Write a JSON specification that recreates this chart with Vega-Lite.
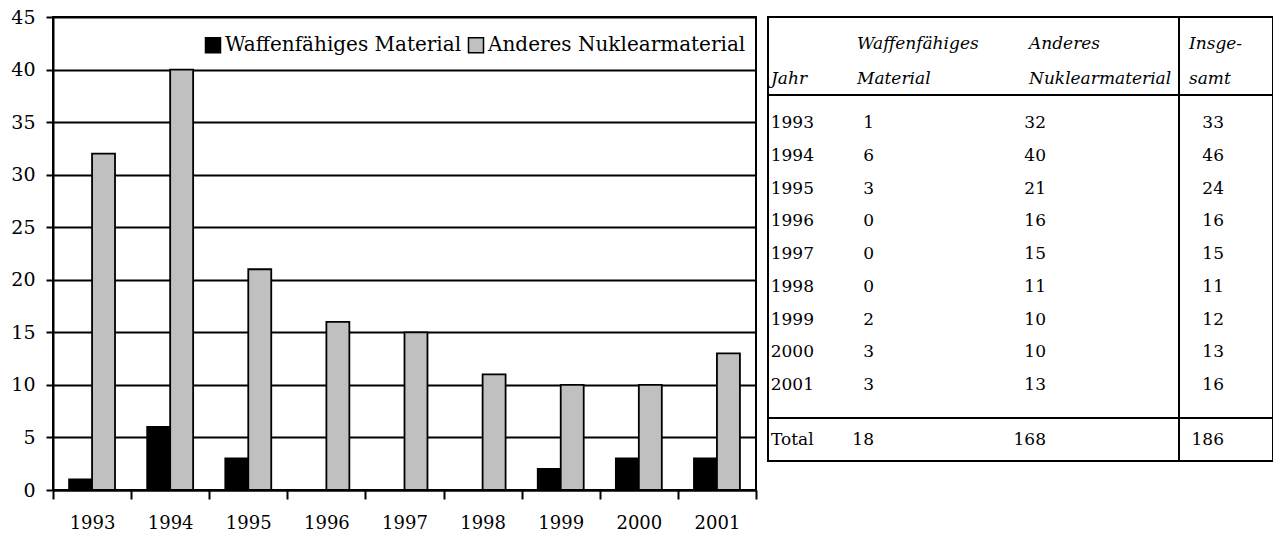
{
  "$schema": "https://vega.github.io/schema/vega-lite/v6.json",
  "padding": {"left": 5, "top": 7, "right": 1, "bottom": 0},
  "bounds": "flush",
  "spacing": 12,
  "background": "white",
  "config": {
    "view": {"stroke": "black", "strokeWidth": 2},
    "font": "DejaVu Serif",
    "text": {"font": "DejaVu Serif"}
  },
  "hconcat": [
    {
      "width": 703,
      "height": 473,
      "data": {
        "values": [
          {"Jahr": "1993", "Typ": "Waffenfähiges Material", "Anzahl": 1},
          {"Jahr": "1993", "Typ": "Anderes Nuklearmaterial", "Anzahl": 32},
          {"Jahr": "1994", "Typ": "Waffenfähiges Material", "Anzahl": 6},
          {"Jahr": "1994", "Typ": "Anderes Nuklearmaterial", "Anzahl": 40},
          {"Jahr": "1995", "Typ": "Waffenfähiges Material", "Anzahl": 3},
          {"Jahr": "1995", "Typ": "Anderes Nuklearmaterial", "Anzahl": 21},
          {"Jahr": "1996", "Typ": "Waffenfähiges Material", "Anzahl": 0},
          {"Jahr": "1996", "Typ": "Anderes Nuklearmaterial", "Anzahl": 16},
          {"Jahr": "1997", "Typ": "Waffenfähiges Material", "Anzahl": 0},
          {"Jahr": "1997", "Typ": "Anderes Nuklearmaterial", "Anzahl": 15},
          {"Jahr": "1998", "Typ": "Waffenfähiges Material", "Anzahl": 0},
          {"Jahr": "1998", "Typ": "Anderes Nuklearmaterial", "Anzahl": 11},
          {"Jahr": "1999", "Typ": "Waffenfähiges Material", "Anzahl": 2},
          {"Jahr": "1999", "Typ": "Anderes Nuklearmaterial", "Anzahl": 10},
          {"Jahr": "2000", "Typ": "Waffenfähiges Material", "Anzahl": 3},
          {"Jahr": "2000", "Typ": "Anderes Nuklearmaterial", "Anzahl": 10},
          {"Jahr": "2001", "Typ": "Waffenfähiges Material", "Anzahl": 3},
          {"Jahr": "2001", "Typ": "Anderes Nuklearmaterial", "Anzahl": 13}
        ]
      },
      "mark": {"type": "bar", "stroke": "black", "strokeWidth": 1.8},
      "encoding": {
        "x": {
          "field": "Jahr",
          "type": "nominal",
          "scale": {"paddingInner": 0, "paddingOuter": 0},
          "axis": {
            "title": null,
            "labelAngle": 0,
            "tickBand": "extent",
            "grid": false,
            "domainColor": "black",
            "domainWidth": 2,
            "tickColor": "black",
            "tickWidth": 2,
            "tickSize": 9,
            "labelFont": "DejaVu Serif",
            "labelFontSize": 18,
            "labelColor": "black",
            "labelPadding": 15
          }
        },
        "xOffset": {
          "field": "Typ",
          "scale": {
            "domain": ["Waffenfähiges Material", "Anderes Nuklearmaterial"],
            "paddingInner": 0,
            "paddingOuter": 0.7
          }
        },
        "y": {
          "field": "Anzahl",
          "type": "quantitative",
          "scale": {"domain": [0, 45], "nice": false},
          "axis": {
            "title": null,
            "values": [0, 5, 10, 15, 20, 25, 30, 35, 40, 45],
            "grid": true,
            "gridColor": "black",
            "gridWidth": 2,
            "gridOpacity": 1,
            "domainColor": "black",
            "domainWidth": 2,
            "tickColor": "black",
            "tickWidth": 2,
            "tickSize": 7,
            "labelFont": "DejaVu Serif",
            "labelFontSize": 19,
            "labelColor": "black",
            "labelPadding": 11,
            "minExtent": 47,
            "maxExtent": 47
          }
        },
        "fill": {
          "field": "Typ",
          "type": "nominal",
          "scale": {
            "domain": ["Waffenfähiges Material", "Anderes Nuklearmaterial"],
            "range": ["black", "#C0C0C0"]
          },
          "legend": {
            "title": null,
            "orient": "none",
            "legendX": 150,
            "legendY": 18,
            "direction": "horizontal",
            "symbolType": "square",
            "symbolSize": 225,
            "symbolStrokeColor": "black",
            "symbolStrokeWidth": 1.5,
            "symbolOpacity": 1,
            "labelFont": "DejaVu Serif",
            "labelFontSize": 20,
            "labelColor": "black",
            "labelOffset": 2,
            "columnPadding": 3,
            "padding": 0,
            "labelLimit": 400
          }
        }
      }
    },
    {
      "width": 505,
      "height": 444,
      "layer": [
        {
          "data": {
            "values": [
              {"row": 0, "col": 1, "text": "Waffenfähiges"},
              {"row": 0, "col": 2, "text": "Anderes"},
              {"row": 0, "col": 3, "text": "Insge-"},
              {"row": 1, "col": 0, "text": "Jahr"},
              {"row": 1, "col": 1, "text": "Material"},
              {"row": 1, "col": 2, "text": "Nuklearmaterial"},
              {"row": 1, "col": 3, "text": "samt"}
            ]
          },
          "mark": {"type": "text", "align": "left", "baseline": "middle", "fontSize": 17, "fontStyle": "italic", "color": "black"},
          "encoding": {
            "x": {"field": "col", "type": "quantitative", "scale": {"domain": [0, 1, 2, 3], "range": [3, 89, 261, 421]}, "axis": null},
            "y": {"field": "row", "type": "quantitative", "scale": {"domain": [0, 1, 1.5, 2, 10, 10.5, 11], "range": [27, 62, 78, 106, 368, 401, 423]}, "axis": null},
            "text": {"field": "text"}
          }
        },
        {
          "data": {"values": [{"row": 11, "col": 0, "text": "Total"}]},
          "mark": {"type": "text", "align": "left", "baseline": "middle", "fontSize": 17, "color": "black"},
          "encoding": {
            "x": {"field": "col", "type": "quantitative", "scale": {"domain": [0, 3], "range": [3, 421]}, "axis": null},
            "y": {"field": "row", "type": "quantitative", "axis": null},
            "text": {"field": "text"}
          }
        },
        {
          "data": {
            "values": [
              {"row": 2, "col": 0, "text": "1993"}, {"row": 2, "col": 1, "text": "1"}, {"row": 2, "col": 2, "text": "32"}, {"row": 2, "col": 3, "text": "33"},
              {"row": 3, "col": 0, "text": "1994"}, {"row": 3, "col": 1, "text": "6"}, {"row": 3, "col": 2, "text": "40"}, {"row": 3, "col": 3, "text": "46"},
              {"row": 4, "col": 0, "text": "1995"}, {"row": 4, "col": 1, "text": "3"}, {"row": 4, "col": 2, "text": "21"}, {"row": 4, "col": 3, "text": "24"},
              {"row": 5, "col": 0, "text": "1996"}, {"row": 5, "col": 1, "text": "0"}, {"row": 5, "col": 2, "text": "16"}, {"row": 5, "col": 3, "text": "16"},
              {"row": 6, "col": 0, "text": "1997"}, {"row": 6, "col": 1, "text": "0"}, {"row": 6, "col": 2, "text": "15"}, {"row": 6, "col": 3, "text": "15"},
              {"row": 7, "col": 0, "text": "1998"}, {"row": 7, "col": 1, "text": "0"}, {"row": 7, "col": 2, "text": "11"}, {"row": 7, "col": 3, "text": "11"},
              {"row": 8, "col": 0, "text": "1999"}, {"row": 8, "col": 1, "text": "2"}, {"row": 8, "col": 2, "text": "10"}, {"row": 8, "col": 3, "text": "12"},
              {"row": 9, "col": 0, "text": "2000"}, {"row": 9, "col": 1, "text": "3"}, {"row": 9, "col": 2, "text": "10"}, {"row": 9, "col": 3, "text": "13"},
              {"row": 10, "col": 0, "text": "2001"}, {"row": 10, "col": 1, "text": "3"}, {"row": 10, "col": 2, "text": "13"}, {"row": 10, "col": 3, "text": "16"},
              {"row": 11, "col": 1, "text": "18"}, {"row": 11, "col": 2, "text": "168"}, {"row": 11, "col": 3, "text": "186"}
            ]
          },
          "mark": {"type": "text", "align": "right", "baseline": "middle", "fontSize": 17, "color": "black"},
          "encoding": {
            "x": {"field": "col", "type": "quantitative", "scale": {"domain": [0, 1, 2, 3], "range": [46, 106, 278, 456]}, "axis": null},
            "y": {"field": "row", "type": "quantitative", "axis": null},
            "text": {"field": "text"}
          }
        },
        {
          "data": {"values": [{"row": 1.5}, {"row": 10.5}]},
          "mark": {"type": "rule", "color": "black", "strokeWidth": 2},
          "encoding": {
            "y": {"field": "row", "type": "quantitative", "axis": null}
          }
        },
        {
          "data": {"values": [{"col": 3}]},
          "mark": {"type": "rule", "color": "black", "strokeWidth": 2},
          "encoding": {
            "x": {"field": "col", "type": "quantitative", "scale": {"domain": [0, 1, 2, 3], "range": [0, 85, 256, 411]}, "axis": null}
          }
        }
      ],
      "resolve": {"scale": {"x": "independent"}}
    }
  ]
}
